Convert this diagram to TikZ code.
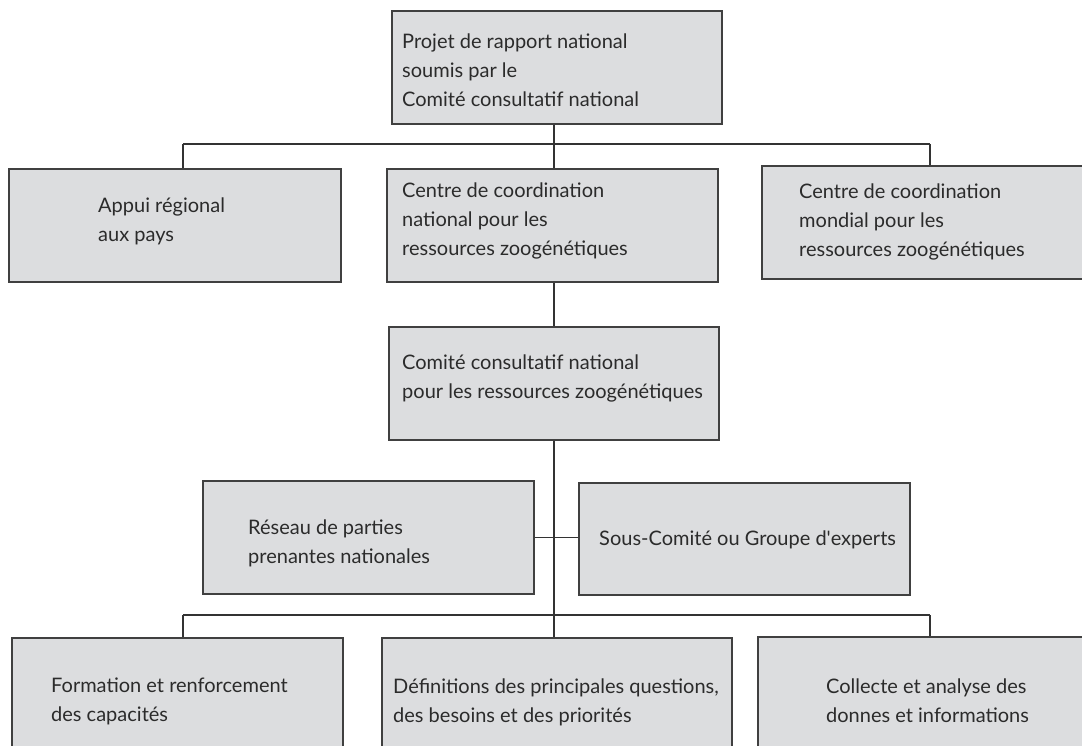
\documentclass[tikz,border=0pt]{standalone}
\usepackage{fontspec}
\setmainfont{Lato}
\usetikzlibrary{fit}
\definecolor{boxfill}{HTML}{DCDDDF}
\definecolor{boxline}{HTML}{404040}
\definecolor{connline}{HTML}{333333}
\definecolor{txt}{HTML}{2B2B2B}
\begin{document}
\begin{tikzpicture}[x=1pt,y=-1pt,
  box/.style={draw=boxline, fill=boxfill, line width=1.1pt, rectangle, inner sep=0pt},
  lbl/.style={anchor=west, align=left, inner sep=0pt, text=txt, font=\fontsize{20}{29}\selectfont},
  conn/.style={draw=connline, line width=1.1pt}]
\path[use as bounding box] (0,0) rectangle (1082,746);
\clip (0,0) rectangle (1082,746);
% boxes
\node[box, fit={(392,11) (722,124)}] (top) {};
\node[box, fit={(9,169) (341,282)}] (appui) {};
\node[box, fit={(387,169) (718,282)}] (natl) {};
\node[box, fit={(762,166) (1095,279)}] (mondial) {};
\node[box, fit={(389,327) (719,440)}] (comite) {};
\node[box, fit={(203,481) (534,594)}] (reseau) {};
\node[box, fit={(579,483) (910,595)}] (sous) {};
\node[box, fit={(12,638) (343,760)}] (form) {};
\node[box, fit={(382,638) (732,760)}] (defs) {};
\node[box, fit={(758,637) (1095,760)}] (coll) {};
% texts
\node[lbl] (ttop) at (402,70) {Projet de rapport national\\soumis par le\\Comité consultatif national};
\node[lbl] (tappui) at (98,221) {Appui régional\\aux pays};
\node[lbl] (tnatl) at (402,221) {Centre de coordination\\national pour les\\ressources zoogénétiques};
\node[lbl] (tmondial) at (799,222) {Centre de coordination\\mondial pour les\\ressources zoogénétiques};
\node[lbl] (tcomite) at (402,378) {Comité consultatif national\\pour les ressources zoogénétiques};
\node[lbl] (treseau) at (248,543) {Réseau de parties\\prenantes nationales};
\node[lbl] (tsous) at (599,540) {Sous-Comité ou Groupe d\textquotesingle experts};
\node[lbl] (tform) at (51,701) {Formation et renforcement\\des capacités};
\node[lbl] (tdefs) at (393,702) {Définitions des principales questions,\\des besoins et des priorités};
\node[lbl] (tcoll) at (826,701) {Collecte et analyse des\\donnes et informations};
% connectors
\coordinate (b1l) at (183,144);
\coordinate (b1r) at (930,144);
\coordinate (b2l) at (183,615);
\coordinate (b2r) at (930,615);
\coordinate (spine) at (554,0);
\draw[conn] (b1l) -- (b1r);
\draw[conn] (b1l) -- (b1l |- appui.north);
\draw[conn] (b1r) -- (b1r |- mondial.north);
\draw[conn] (spine |- top.south) -- (spine |- natl.north);
\draw[conn] (spine |- natl.south) -- (spine |- comite.north);
\draw[conn] (spine |- comite.south) -- (spine |- defs.north);
\draw[conn] (reseau.east) -- (reseau.east -| sous.west);
\draw[conn] (b2l) -- (b2r);
\draw[conn] (b2l) -- (b2l |- form.north);
\draw[conn] (b2r) -- (b2r |- coll.north);
\end{tikzpicture}
\end{document}
